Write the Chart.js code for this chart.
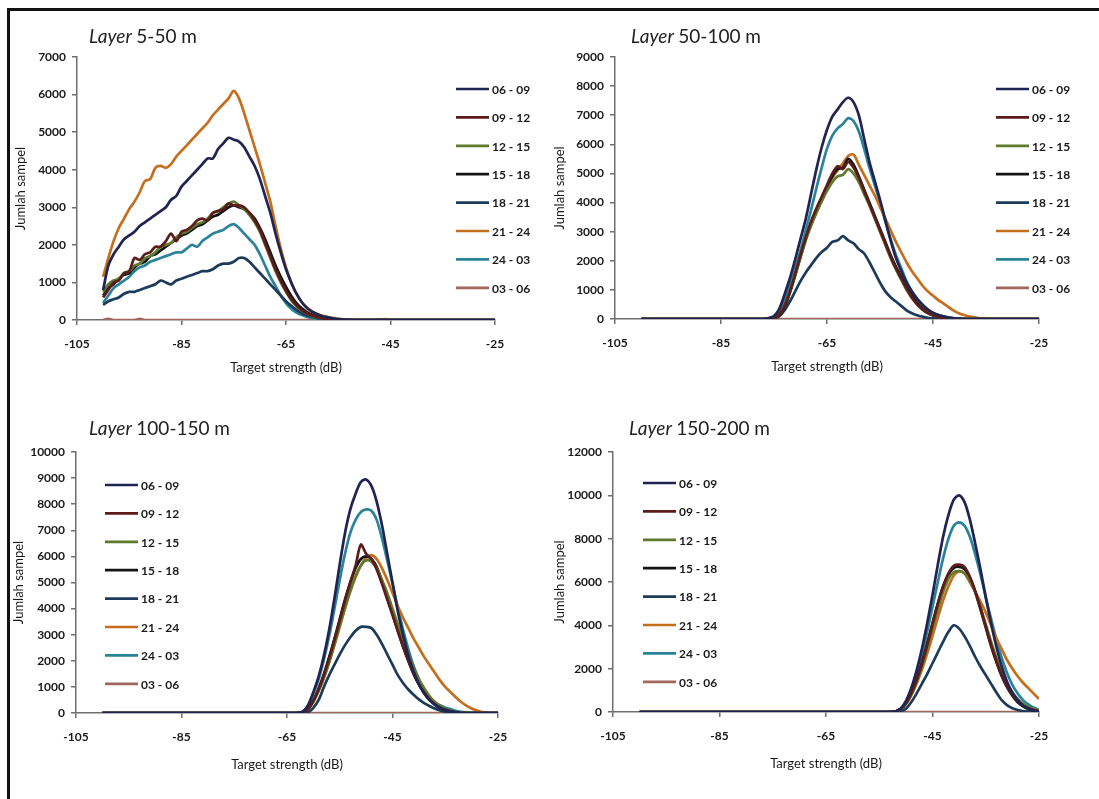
<!DOCTYPE html>
<html>
<head>
<meta charset="utf-8">
<script src="https://cdn.jsdelivr.net/npm/chart.js@4.4.1/dist/chart.umd.min.js"></script>
<style>
  html, body { margin: 0; padding: 0; background: #fff; }
  body { width: 1099px; height: 799px; position: relative; overflow: hidden; }
  #frame { position: absolute; left: 7px; top: 8px; right: 0; bottom: 0; border-left: 3px solid #111; border-top: 3px solid #111; }
  canvas { position: absolute; }
</style>
</head>
<body>
<div id="frame"></div>
<canvas id="c1" width="550" height="400" style="left:0;top:0"></canvas>
<canvas id="c2" width="549" height="400" style="left:550px;top:0"></canvas>
<canvas id="c3" width="550" height="399" style="left:0;top:400px"></canvas>
<canvas id="c4" width="549" height="399" style="left:550px;top:400px"></canvas>
<script>
// target strength grid (dB), -100 .. -25
var ts = [-100,-99,-98,-97,-96,-95,-94,-93,-92,-91,-90,-89,-88,-87,-86,-85,-84,-83,-82,-81,
  -80,-79,-78,-77,-76,-75,-74,-73,-72,-71,-70,-69,-68,-67,-66,-65,-64,-63,-62,-61,
  -60,-59,-58,-57,-56,-55,-54,-53,-52,-51,-50,-49,-48,-47,-46,-45,-44,-43,-42,-41,
  -40,-39,-38,-37,-36,-35,-34,-33,-32,-31,-30,-29,-28,-27,-26,-25];

var periods = ['06 - 09','09 - 12','12 - 15','15 - 18','18 - 21','21 - 24','24 - 03','03 - 06'];
var colors = ['#1f2452','#5c1c1c','#5f7a2c','#141414','#1c3b5a','#c46e1e','#2b8399','#a2675c'];
var xTicks = [-105,-85,-65,-45,-25];

// Layer 5-50 m   (-100..-75 | -74..-50 | -49..-25)
var l1_0609 = [800,1450,1750,1950,2150,2250,2350,2500,2600,2700,2800,2900,3000,3200,3300,3550,3700,3850,4000,4150,4300,4300,4550,4700,4850,4800,
  4750,4600,4350,4100,3750,3300,2850,2300,1800,1350,1000,700,480,320,220,150,100,70,45,25,12,5,0,0,0,
  0,0,0,0,0, 0,0,0,0,0, 0,0,0,0,0, 0,0,0,0,0, 0,0,0,0,0];
var l1_0912 = [600,800,1000,1050,1250,1300,1650,1600,1750,1800,1950,1950,2100,2300,2100,2350,2400,2500,2650,2700,2650,2850,2900,2950,3100,3050,
  3050,3000,2850,2650,2400,2050,1700,1350,1050,780,550,390,260,180,120,75,45,25,12,5,0,0,0,0,0,
  0,0,0,0,0, 0,0,0,0,0, 0,0,0,0,0, 0,0,0,0,0, 0,0,0,0,0];
var l1_1215 = [750,950,1050,1100,1250,1300,1450,1500,1650,1700,1800,1950,2000,2050,2200,2300,2350,2450,2550,2600,2700,2850,2900,3000,3100,3150,
  3050,2950,2800,2600,2350,2000,1650,1300,1000,750,530,370,250,170,110,70,40,20,10,5,0,0,0,0,0,
  0,0,0,0,0, 0,0,0,0,0, 0,0,0,0,0, 0,0,0,0,0, 0,0,0,0,0];
var l1_1518 = [650,850,950,1100,1200,1250,1400,1500,1550,1700,1750,1850,1950,2050,2150,2250,2300,2400,2500,2550,2650,2750,2800,2900,3000,3050,
  3000,2950,2850,2700,2450,2150,1800,1450,1150,880,640,450,310,210,140,90,55,30,15,5,0,0,0,0,0,
  0,0,0,0,0, 0,0,0,0,0, 0,0,0,0,0, 0,0,0,0,0, 0,0,0,0,0];
var l1_1821 = [400,500,550,600,700,750,750,800,850,900,950,1050,1000,950,1050,1100,1150,1200,1250,1300,1300,1350,1450,1500,1500,1550,
  1650,1650,1550,1400,1250,1100,950,800,650,500,380,270,180,120,80,50,30,15,5,0,0,0,0,0,0,
  0,0,0,0,0, 0,0,0,0,0, 0,0,0,0,0, 0,0,0,0,0, 0,0,0,0,0];
var l1_2124 = [1150,1650,2100,2450,2700,2950,3150,3400,3700,3750,4050,4100,4050,4150,4350,4500,4650,4800,4950,5100,5250,5450,5600,5750,5900,6100,
  5900,5500,5050,4600,4150,3650,3150,2500,1900,1400,1000,700,480,330,230,160,110,80,50,30,15,8,4,2,0,
  0,0,10,25,5, 0,0,0,0,0, 0,0,0,0,0, 0,0,0,0,0, 0,0,0,0,0];
var l1_2403 = [450,650,850,950,1050,1150,1300,1400,1450,1550,1600,1650,1700,1750,1800,1800,1900,2000,1950,2100,2200,2300,2350,2400,2500,2550,
  2450,2300,2150,2000,1750,1450,1150,900,650,450,300,200,130,80,50,30,15,5,0,0,0,0,0,0,0,
  0,0,0,0,0, 0,0,0,0,0, 0,0,0,0,0, 0,0,0,0,0, 0,0,0,0,0];
var l1_0306 = [0,30,0,0,0,0,0,30,0,0,0,0,0,0,0,0,0,0,0,0,0,0,0,0,0,0,
  0,0,0,0,0, 0,0,0,0,0, 0,0,0,0,0, 0,0,0,0,0, 0,0,0,0,0,
  0,0,0,0,0, 0,0,0,0,0, 0,0,0,0,0, 0,0,0,0,0, 0,0,0,0,0];

// Layer 50-100 m   (-100..-76 | -75..-51 | -50..-25)
var l2_0609 = [0,0,0,0,0, 0,0,0,0,0, 0,0,0,0,0, 0,0,0,0,0, 0,0,0,0,30,
  100,350,850,1400,2050,2750,3450,4300,5150,5900,6500,6950,7200,7450,7600,7450,7000,6200,5400,4750,4100,3400,2700,2100,1650,
  1250,950,700,500,330,220,140,90,50,25,10,0,0,0,0,0,0,0,0,0,0,0,0,0,0,0];
var l2_0912 = [0,0,0,0,0, 0,0,0,0,0, 0,0,0,0,0, 0,0,0,0,0, 0,0,0,0,0,
  40,150,450,950,1550,2200,2800,3350,3800,4200,4600,5000,5250,5150,5400,5200,4850,4400,3950,3500,3050,2600,2150,1750,1400,
  1050,750,500,330,200,120,70,35,15,0,0,0,0,0,0,0,0,0,0,0,0,0,0,0,0,0];
var l2_1215 = [0,0,0,0,0, 0,0,0,0,0, 0,0,0,0,0, 0,0,0,0,0, 0,0,0,0,0,
  40,150,450,950,1500,2100,2700,3200,3650,4050,4400,4700,4900,4950,5150,5000,4700,4300,3900,3450,3000,2550,2100,1700,1350,
  1000,720,500,330,210,130,75,40,20,0,0,0,0,0,0,0,0,0,0,0,0,0,0,0,0,0];
var l2_1518 = [0,0,0,0,0, 0,0,0,0,0, 0,0,0,0,0, 0,0,0,0,0, 0,0,0,0,0,
  30,120,400,900,1500,2150,2750,3300,3750,4150,4550,4900,5150,5200,5500,5300,4900,4450,4000,3550,3100,2650,2200,1800,1450,
  1100,800,550,360,230,140,80,40,15,0,0,0,0,0,0,0,0,0,0,0,0,0,0,0,0,0];
var l2_1821 = [0,0,0,0,0, 0,0,0,0,0, 0,0,0,0,0, 0,0,0,0,0, 0,0,0,0,0,
  30,100,300,600,950,1300,1600,1850,2100,2300,2450,2650,2700,2850,2700,2600,2400,2250,1950,1600,1250,950,750,600,450,
  300,200,130,80,40,20,0,0,0,0,0,0,0,0,0,0,0,0,0,0,0,0,0,0,0,0];
var l2_2124 = [0,0,0,0,0, 0,0,0,0,0, 0,0,0,0,0, 0,0,0,0,0, 0,0,0,0,0,
  40,150,450,950,1550,2150,2750,3250,3650,4050,4450,4850,5100,5350,5600,5650,5300,4950,4600,4250,3850,3450,3050,2650,2300,
  1950,1650,1400,1150,950,800,650,530,400,280,190,130,80,50,25,10,0,0,0,0,0,0,0,0,0,0];
var l2_2403 = [0,0,0,0,0, 0,0,0,0,0, 0,0,0,0,0, 0,0,0,0,0, 0,0,0,0,20,
  50,250,650,1150,1750,2350,3050,3750,4500,5200,5850,6300,6550,6700,6900,6800,6450,5850,5200,4600,4000,3350,2750,2200,1750,
  1300,950,650,450,300,200,140,90,50,25,10,0,0,0,0,0,0,0,0,0,0,0,0,0,0,0];
var l2_0306 = [0,0,0,0,0, 0,0,0,0,0, 0,0,0,0,0, 0,0,0,0,0, 0,0,0,0,0,
  0,0,0,0,0, 0,0,0,0,0, 0,0,0,0,0, 0,0,0,0,0, 0,0,0,0,0,
  0,0,0,0,0,0,0,0,0,0,0,0,0,0,0,0,0,0,0,0,0,0,0,0,0,0];

// Layer 100-150 m   (-100..-64 | -63..-39 | -38..-25)
var l3_0609 = [0,0,0,0,0,0,0,0,0,0, 0,0,0,0,0,0,0,0,0,0, 0,0,0,0,0,0,0,0,0,0, 0,0,0,0,0,0,0,
  10,50,300,800,1400,2200,3200,4400,5700,6900,7800,8400,8850,8950,8700,8100,7200,6100,5000,3900,3000,2200,1600,1100,750,
  500,320,200,120,60,30,10,0,0,0,0,0,0,0];
var l3_0912 = [0,0,0,0,0,0,0,0,0,0, 0,0,0,0,0,0,0,0,0,0, 0,0,0,0,0,0,0,0,0,0, 0,0,0,0,0,0,0,
  0,30,150,450,900,1450,2100,2800,3550,4300,5000,5650,6450,6100,5900,5500,4950,4350,3750,3150,2550,2000,1500,1100,780,
  520,330,200,110,60,25,0,0,0,0,0,0,0,0];
var l3_1215 = [0,0,0,0,0,0,0,0,0,0, 0,0,0,0,0,0,0,0,0,0, 0,0,0,0,0,0,0,0,0,0, 0,0,0,0,0,0,0,
  0,30,150,430,850,1350,1950,2650,3350,4050,4700,5250,5650,5850,5800,5550,5100,4600,4000,3400,2800,2250,1750,1300,950,
  650,430,270,160,90,40,15,0,0,0,0,0,0,0];
var l3_1518 = [0,0,0,0,0,0,0,0,0,0, 0,0,0,0,0,0,0,0,0,0, 0,0,0,0,0,0,0,0,0,0, 0,0,0,0,0,0,0,
  0,30,160,480,950,1500,2150,2850,3600,4350,5000,5550,5900,6000,5900,5600,5050,4450,3800,3150,2550,2000,1500,1100,780,
  520,330,200,110,60,25,0,0,0,0,0,0,0,0];
var l3_1821 = [0,0,0,0,0,0,0,0,0,0, 0,0,0,0,0,0,0,0,0,0, 0,0,0,0,0,0,0,0,0,0, 0,0,0,0,0,0,0,
  0,0,30,200,500,1000,1450,1850,2250,2600,2900,3150,3300,3300,3250,3000,2650,2250,1850,1450,1150,900,700,520,380,
  270,170,100,50,20,0,0,0,0,0,0,0,0,0];
var l3_2124 = [0,0,0,0,0,0,0,0,0,0, 0,0,0,0,0,0,0,0,0,0, 0,0,0,0,0,0,0,0,0,0, 0,0,0,0,0,0,0,
  0,30,150,450,850,1350,1950,2600,3300,4000,4650,5200,5650,5950,6050,5900,5550,5100,4600,4100,3650,3250,2850,2500,2150,
  1850,1550,1250,1000,800,600,420,280,170,90,40,15,0,0];
var l3_2403 = [0,0,0,0,0,0,0,0,0,0, 0,0,0,0,0,0,0,0,0,0, 0,0,0,0,0,0,0,0,0,0, 0,0,0,0,0,0,0,
  10,50,280,750,1300,2050,2950,4000,5100,6100,6900,7400,7700,7800,7750,7400,6700,5850,4950,4050,3200,2450,1800,1300,900,
  600,400,300,200,150,80,40,15,0,0,0,0,0,0];
var l3_0306 = [0,0,0,0,0,0,0,0,0,0, 0,0,0,0,0,0,0,0,0,0, 0,0,0,0,0,0,0,0,0,0, 0,0,0,0,0,0,0,
  0,0,0,0,0, 0,0,0,0,0, 0,0,0,0,0, 0,0,0,0,0, 0,0,0,0,0,
  0,0,0,0,0,0,0,0,0,0,0,0,0,0];

// Layer 150-200 m   (-100..-53 | -52..-25)
var l4_0609 = [0,0,0,0,0,0,0,0,0,0, 0,0,0,0,0,0,0,0,0,0, 0,0,0,0,0,0,0,0,0,0, 0,0,0,0,0,0,0,0,0,0, 0,0,0,0,0,0,0,0,
  20,150,500,1100,1900,2900,4100,5400,6800,8100,9100,9800,10000,9700,8900,7800,6600,5300,4100,3000,2100,1400,900,550,300,150,60,20];
var l4_0912 = [0,0,0,0,0,0,0,0,0,0, 0,0,0,0,0,0,0,0,0,0, 0,0,0,0,0,0,0,0,0,0, 0,0,0,0,0,0,0,0,0,0, 0,0,0,0,0,0,0,0,
  20,130,400,850,1450,2200,3100,4050,5000,5800,6400,6750,6800,6700,6250,5600,4800,3950,3100,2350,1700,1200,800,500,300,170,90,40];
var l4_1215 = [0,0,0,0,0,0,0,0,0,0, 0,0,0,0,0,0,0,0,0,0, 0,0,0,0,0,0,0,0,0,0, 0,0,0,0,0,0,0,0,0,0, 0,0,0,0,0,0,0,0,
  20,120,380,800,1400,2100,2950,3850,4750,5550,6150,6450,6500,6400,6050,5550,4850,4050,3250,2500,1850,1300,900,600,380,230,130,70];
var l4_1518 = [0,0,0,0,0,0,0,0,0,0, 0,0,0,0,0,0,0,0,0,0, 0,0,0,0,0,0,0,0,0,0, 0,0,0,0,0,0,0,0,0,0, 0,0,0,0,0,0,0,0,
  20,130,420,900,1500,2250,3150,4100,5000,5800,6350,6650,6700,6600,6200,5550,4750,3900,3050,2300,1650,1150,750,450,260,140,70,30];
var l4_1821 = [0,0,0,0,0,0,0,0,0,0, 0,0,0,0,0,0,0,0,0,0, 0,0,0,0,0,0,0,0,0,0, 0,0,0,0,0,0,0,0,0,0, 0,0,0,0,0,0,0,0,
  0,30,150,450,850,1300,1750,2250,2750,3250,3700,4000,3850,3500,3050,2550,2100,1700,1300,900,550,320,170,90,40,15,0,0];
var l4_2124 = [0,0,0,0,0,0,0,0,0,0, 0,0,0,0,0,0,0,0,0,0, 0,0,0,0,0,0,0,0,0,0, 0,0,0,0,0,0,0,0,0,0, 0,0,0,0,0,0,0,0,
  20,120,350,750,1300,1950,2700,3500,4350,5150,5800,6300,6500,6400,6000,5550,5100,4600,4000,3400,2900,2400,2000,1650,1350,1100,850,600];
var l4_2403 = [0,0,0,0,0,0,0,0,0,0, 0,0,0,0,0,0,0,0,0,0, 0,0,0,0,0,0,0,0,0,0, 0,0,0,0,0,0,0,0,0,0, 0,0,0,0,0,0,0,0,
  20,150,450,1000,1700,2600,3700,4850,6000,7100,8000,8600,8750,8600,8100,7300,6350,5300,4300,3350,2500,1800,1250,850,550,350,200,100];
var l4_0306 = [0,0,0,0,0,0,0,0,0,0, 0,0,0,0,0,0,0,0,0,0, 0,0,0,0,0,0,0,0,0,0, 0,0,0,0,0,0,0,0,0,0, 0,0,0,0,0,0,0,0,
  0,0,0,0,0,0,0,0,0,0,0,0,0,0,0,0,0,0,0,0,0,0,0,0,0,0,0,0];

var panels = [
  { id: 'c1', title: '5-50 m', yMax: 7000, yStep: 1000,
    series: [l1_0609, l1_0912, l1_1215, l1_1518, l1_1821, l1_2124, l1_2403, l1_0306],
    pad: { top: 57, right: 55, bottom: 20 }, yw: 77, xh: 60, yTitlePad: 13,
    titlePos: { x: 89, y: 37 }, key: { x: 456, y: 89, dy: 28.4 } },
  { id: 'c2', title: '50-100 m', yMax: 9000, yStep: 1000,
    series: [l2_0609, l2_0912, l2_1215, l2_1518, l2_1821, l2_2124, l2_2403, l2_0306],
    pad: { top: 57, right: 60, bottom: 21 }, yw: 65, xh: 60, yTitlePad: 2,
    titlePos: { x: 81, y: 37 }, key: { x: 446, y: 89, dy: 28.4 } },
  { id: 'c3', title: '100-150 m', yMax: 10000, yStep: 1000,
    series: [l3_0609, l3_0912, l3_1215, l3_1518, l3_1821, l3_2124, l3_2403, l3_0306],
    pad: { top: 52, right: 52, bottom: 22 }, yw: 76, xh: 64, yTitlePad: 11,
    titlePos: { x: 89, y: 29 }, key: { x: 105, y: 85, dy: 28.4 } },
  { id: 'c4', title: '150-200 m', yMax: 12000, yStep: 2000,
    series: [l4_0609, l4_0912, l4_1215, l4_1518, l4_1821, l4_2124, l4_2403, l4_0306],
    pad: { top: 52, right: 60, bottom: 23 }, yw: 63, xh: 64, yTitlePad: 2,
    titlePos: { x: 79, y: 29 }, key: { x: 93, y: 83, dy: 28.4 } }
];

var FONT = 'Lato, "Open Sans", sans-serif';
var axisColor = '#6e6e6e';

// title (italic "Layer") and the line key, drawn on the canvas
var panelText = {
  id: 'panelText',
  afterDraw: function (chart, args, opts) {
    var ctx = chart.ctx;
    ctx.save();
    ctx.fillStyle = '#222';
    ctx.textBaseline = 'middle';
    ctx.textAlign = 'left';
    ctx.font = 'italic 19px ' + FONT;
    ctx.fillText('Layer', opts.titlePos.x, opts.titlePos.y);
    var w = ctx.measureText('Layer ').width;
    ctx.font = '19px ' + FONT;
    ctx.fillText(opts.title, opts.titlePos.x + w, opts.titlePos.y);

    ctx.font = 'bold 12px ' + FONT;
    chart.data.datasets.forEach(function (ds, i) {
      var y = opts.key.y + i * opts.key.dy;
      ctx.strokeStyle = ds.borderColor;
      ctx.lineWidth = 2.7;
      ctx.beginPath();
      ctx.moveTo(opts.key.x, y);
      ctx.lineTo(opts.key.x + 33, y);
      ctx.stroke();
      ctx.fillStyle = '#1a1a1a';
      ctx.fillText(ds.label, opts.key.x + 36, y + 1);
    });
    ctx.restore();
  }
};

panels.forEach(function (p) {
  var datasets = p.series.map(function (vals, k) {
    return {
      label: periods[k],
      data: ts.map(function (x, i) { return { x: x, y: vals[i] }; }),
      borderColor: colors[k],
      backgroundColor: colors[k],
      borderWidth: 2.7,
      pointRadius: 0,
      tension: 0.3,
      fill: false
    };
  });

  new Chart(document.getElementById(p.id), {
    type: 'line',
    data: { datasets: datasets },
    plugins: [panelText],
    options: {
      responsive: false,
      animation: false,
      layout: { padding: { left: 0, top: p.pad.top, right: p.pad.right, bottom: p.pad.bottom } },
      plugins: {
        legend: { display: false },
        tooltip: { enabled: false },
        panelText: { title: p.title, titlePos: p.titlePos, key: p.key }
      },
      scales: {
        x: {
          type: 'linear', min: -105, max: -25,
          afterBuildTicks: function (s) { s.ticks = xTicks.map(function (v) { return { value: v }; }); },
          ticks: { color: '#1a1a1a', font: { family: FONT, size: 12, weight: 'bold' }, padding: 12,
                   callback: function (v) { return String(v); } },
          grid: { drawOnChartArea: false, drawTicks: true, tickLength: 5, color: axisColor, lineWidth: 1.5 },
          border: { color: axisColor, width: 1.5 },
          title: { display: true, text: 'Target strength (dB)', color: '#1a1a1a',
                   font: { family: FONT, size: 13 }, padding: { top: 0, bottom: 4 } },
          afterFit: function (s) { s.height = p.xh; }
        },
        y: {
          min: 0, max: p.yMax,
          ticks: { stepSize: p.yStep, color: '#1a1a1a', font: { family: FONT, size: 12, weight: 'bold' }, padding: 6,
                   callback: function (v) { return String(v); } },
          grid: { drawOnChartArea: false, drawTicks: true, tickLength: 5, color: axisColor, lineWidth: 1.5 },
          border: { color: axisColor, width: 1.5 },
          title: { display: true, text: 'Jumlah sampel', color: '#1a1a1a',
                   font: { family: FONT, size: 13 }, padding: { top: p.yTitlePad, bottom: 0 } },
          afterFit: function (s) { s.width = p.yw; }
        }
      }
    }
  });
});
</script>
</body>
</html>
